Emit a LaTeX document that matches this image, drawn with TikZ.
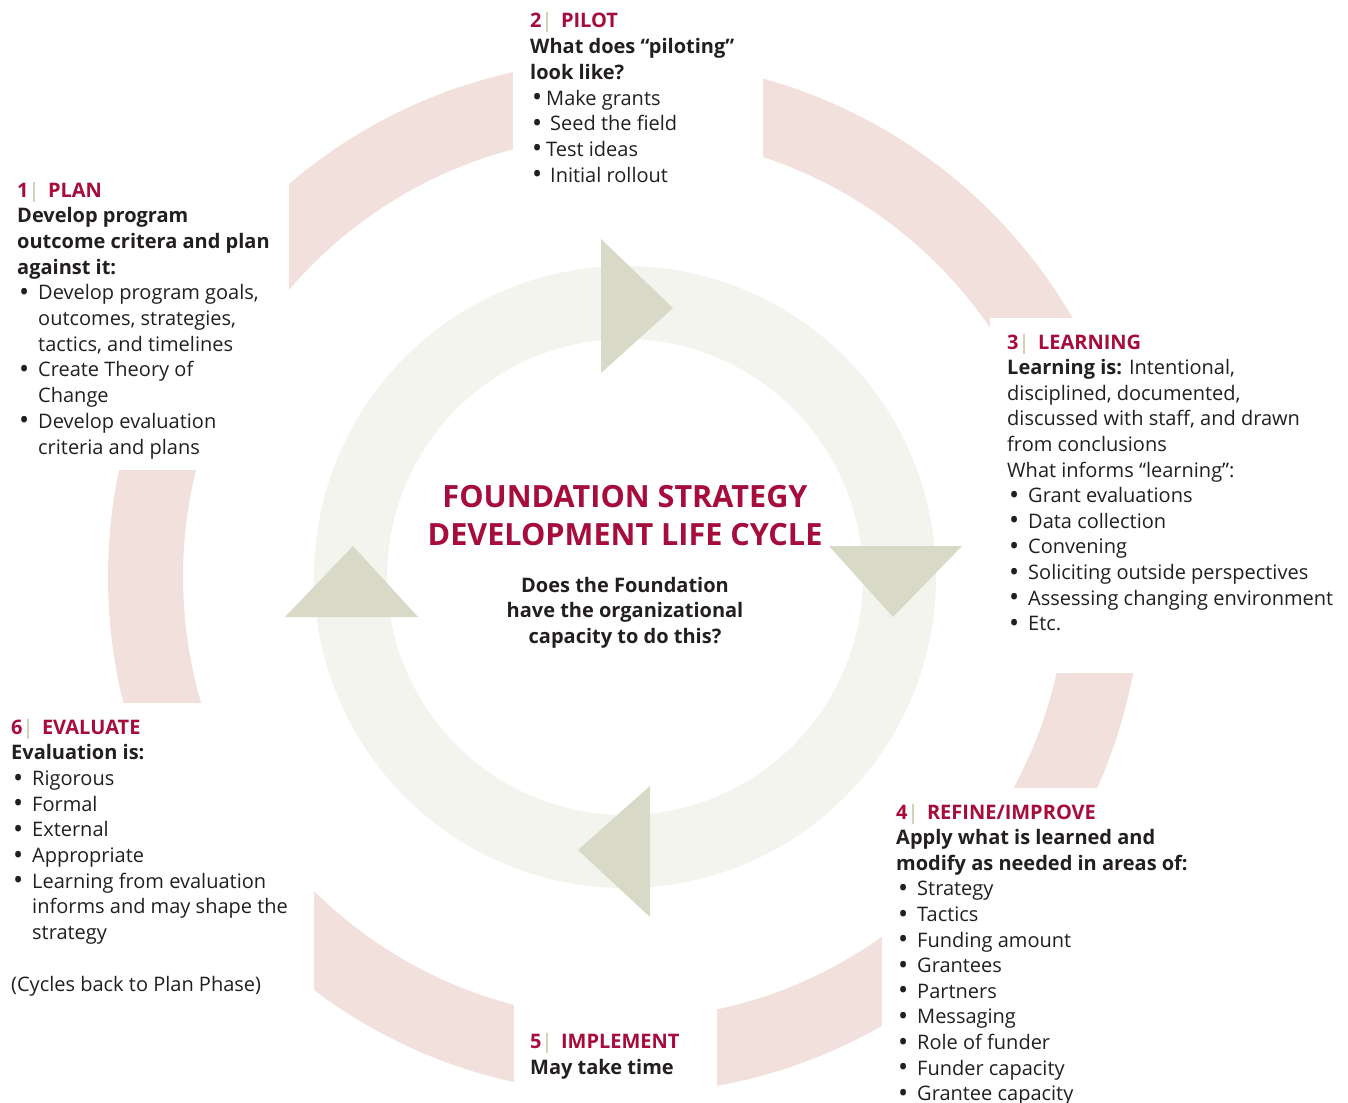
\documentclass[tikz,border=0pt]{standalone}
\usepackage{fontspec}
\setmainfont{Open Sans}
\definecolor{crim}{RGB}{166,12,60}
\definecolor{ink}{RGB}{35,31,32}
\definecolor{barc}{RGB}{196,188,150}
\definecolor{pinkring}{RGB}{242,224,221}
\definecolor{greyring}{RGB}{244,244,239}
\definecolor{tric}{RGB}{217,217,199}
\newcommand\bul[1][21pt]{\makebox[#1][l]{\hspace{2pt}\raisebox{-1.6pt}{\scalebox{1.35}{•}}}}
\newcommand\ind[1][21pt]{\hspace*{#1}}
\newcommand\hd[2]{\textcolor{crim}{\bfseries #1}\textcolor{barc}{|}\hspace{0.42em}\textcolor{crim}{\bfseries #2}}
\tikzset{
  body/.style={anchor=base west, inner sep=0pt, text=ink, font=\fontsize{20}{23}\selectfont},
  ttl/.style={anchor=base, inner sep=0pt, text=crim, font=\fontsize{30.6}{36}\selectfont\bfseries},
  sub/.style={anchor=base, inner sep=0pt, text=ink, font=\fontsize{20}{23}\selectfont\bfseries},
  tri/.style={fill=tric}
}
\begin{document}
\begin{tikzpicture}[x=1pt,y=-1pt]
\useasboundingbox (0,0) rectangle (1348,1102);
\fill[white] (0,0) rectangle (1348,1102);
% outer pink ring
\fill[pinkring, even odd rule] (625,577) circle[radius=517pt] (625,577) circle[radius=442pt];
% white text areas
\fill[white] (0,0) rectangle (289,470);
\fill[white] (513,0) rectangle (763,200);
\fill[white] (990,318) rectangle (1348,673);
\fill[white] (882,788) rectangle (1348,1102);
\fill[white] (514,990) rectangle (717,1102);
\fill[white] (0,703) rectangle (314,1102);
% inner grey ring
\fill[greyring, even odd rule] (625,577) circle[radius=311pt] (625,577) circle[radius=238pt];
% arrow triangles
\fill[tri] (601,239) -- (673,308) -- (601,373) -- cycle;
\fill[tri] (829,546) -- (962,546) -- (893,617) -- cycle;
\fill[tri] (650,786) -- (578,850) -- (650,917) -- cycle;
\fill[tri] (285,617) -- (353,546) -- (418,617) -- cycle;
% centre
\node[ttl] (t1) at (625,507) {FOUNDATION STRATEGY};
\node[ttl] (t2) at (625,545) {DEVELOPMENT LIFE CYCLE};
\foreach \t [count=\i] in {Does the Foundation, have the organizational, capacity to do this?}
  \node[sub] (s\i) at (625,592+25.6*\i-25.6) {\t};
% 1 PLAN
\foreach \t [count=\i] in {{\hd{1}{PLAN}}, {\bfseries Develop program}, {\bfseries outcome critera and plan}, {\bfseries against it:},
  {\bul Develop program goals,}, {\ind outcomes, strategies,}, {\ind tactics, and timelines},
  {\bul Create Theory of}, {\ind Change}, {\bul Develop evaluation}, {\ind criteria and plans}}
  \node[body] (plan\i) at (17,197+25.7*\i-25.7) {\t};
% 2 PILOT
\foreach \t [count=\i] in {{\hd{2}{PILOT}}, {\bfseries What does “piloting”}, {\bfseries look like?},
  {\bul[16pt]Make grants}, {\bul[20pt]Seed the field}, {\bul[16pt]Test ideas}, {\bul[20pt]Initial rollout}}
  \node[body] (pilot\i) at (530,28+25.67*\i-25.67) {\t};
% 3 LEARNING
\foreach \t [count=\i] in {{\hd{3}{LEARNING}}, {{\bfseries Learning is:} Intentional,}, {disciplined, documented,},
  {discussed with staff, and drawn}, {from conclusions}, {What informs “learning”:},
  {\bul Grant evaluations}, {\bul Data collection}, {\bul Convening}, {\bul Soliciting outside perspectives},
  {\bul Assessing changing environment}, {\bul Etc.}}
  \node[body] (learn\i) at (1007,349+25.6*\i-25.6) {\t};
% 4 REFINE
\foreach \t [count=\i] in {{\hd{4}{REFINE/IMPROVE}}, {\bfseries Apply what is learned and}, {\bfseries modify as needed in areas of:},
  {\bul Strategy}, {\bul Tactics}, {\bul Funding amount}, {\bul Grantees}, {\bul Partners}, {\bul Messaging},
  {\bul Role of funder}, {\bul Funder capacity}, {\bul Grantee capacity}}
  \node[body] (ref\i) at (896,819+25.6*\i-25.6) {\t};
% 5 IMPLEMENT
\node[body] (imp1) at (530,1048) {\hd{5}{IMPLEMENT}};
\node[body] (imp2) at (530,1074) {\bfseries May take time};
% 6 EVALUATE
\foreach \t [count=\i] in {{\hd{6}{EVALUATE}}, {\bfseries Evaluation is:}, {\bul Rigorous}, {\bul Formal}, {\bul External},
  {\bul Appropriate}, {\bul Learning from evaluation}, {\ind informs and may shape the}, {\ind strategy}}
  \node[body] (eval\i) at (11,734+25.7*\i-25.7) {\t};
\node[body] (eval10) at (11,991) {(Cycles back to Plan Phase)};
\end{tikzpicture}
\end{document}
